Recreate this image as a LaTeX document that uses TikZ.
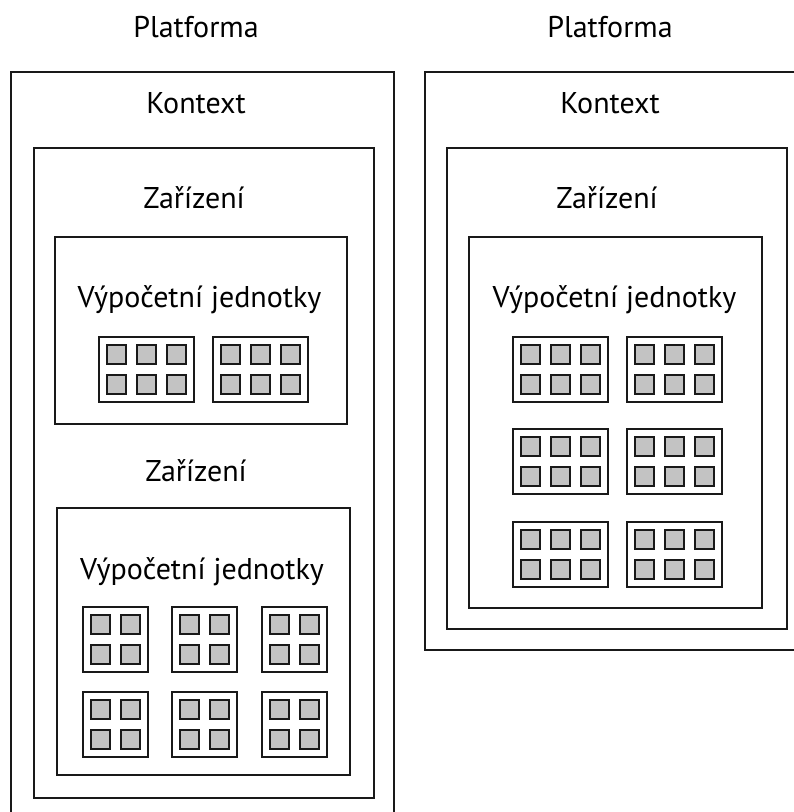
\documentclass[tikz,border=0pt]{standalone}
\usepackage{fontspec}
\setmainfont{PT Sans}
\definecolor{cellgray}{HTML}{C3C3C3}
\newcommand\unitbox[4]{% x, y (top-left), cols, rows
  \pgfmathsetmacro\uw{16+30*(#3-1)+19}%
  \pgfmathsetmacro\uh{16+30*(#4-1)+19}%
  \draw[frame] (#1,#2) rectangle ++(\uw,\uh);
  \foreach \ci in {1,...,#3}{\foreach \ri in {1,...,#4}{%
    \draw[cell] ({#1+8+30*(\ci-1)},{#2+8+30*(\ri-1)}) rectangle ++(19,19);}}%
}
\begin{document}
\begin{tikzpicture}[x=1pt,y=-1pt,
  frame/.style={draw=black!90,line width=1.7pt},
  cell/.style={draw=black!90,fill=cellgray,line width=1.7pt},
  lbl/.style={anchor=base,inner sep=0pt,font=\fontsize{30}{34}\selectfont}]
\useasboundingbox (0,0) rectangle (794,812);
\clip (0,0) rectangle (794,812);
% left platform
\node[lbl] (p1) at (196,37) {Platforma};
\draw[frame] (11,72) rectangle (394,840);
\node[lbl] (k1) at (196,113) {Kontext};
\draw[frame] (34,148) rectangle (374,798);
\node[lbl] (z1) at (194,208) {Zařízení};
\draw[frame] (55,237) rectangle (347,424);
\node[lbl] (v1) at (199.5,307) {Výpočetní jednotky};
\unitbox{99}{337}{3}{2}
\unitbox{213}{337}{3}{2}
\node[lbl] (z2) at (196,481) {Zařízení};
\draw[frame] (57,508) rectangle (350,775);
\node[lbl] (v2) at (202,579) {Výpočetní jednotky};
\foreach \xx in {83,172,262}{\foreach \yy in {607,692}{\unitbox{\xx}{\yy}{2}{2}}}
% right platform
\node[lbl] (p2) at (610,37) {Platforma};
\draw[frame] (425,72) rectangle (840,650);
\node[lbl] (k2) at (610,113) {Kontext};
\draw[frame] (447,148) rectangle (787,629);
\node[lbl] (z3) at (607,208) {Zařízení};
\draw[frame] (469,237) rectangle (762,608);
\node[lbl] (v3) at (614.5,307) {Výpočetní jednotky};
\foreach \xx in {513,627}{\foreach \yy in {337,429,522}{\unitbox{\xx}{\yy}{3}{2}}}
\end{tikzpicture}
\end{document}
